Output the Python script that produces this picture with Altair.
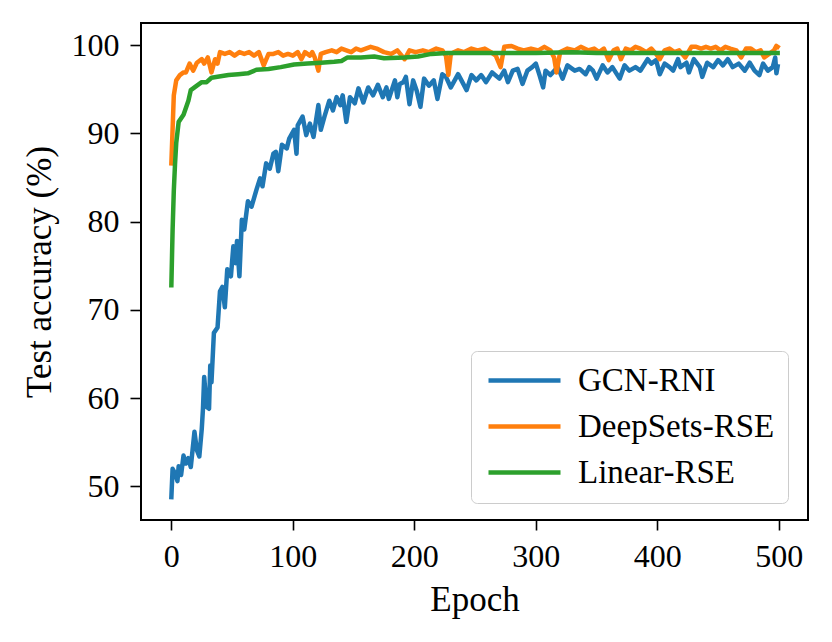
import altair as alt
import pandas as pd

SERIES = ["GCN-RNI", "DeepSets-RSE", "Linear-RSE"]
COLORS = ["#1f77b4", "#ff7f0e", "#2ca02c"]

gcn_epoch = [0, 1, 3, 5, 6, 8, 10, 12, 14, 16, 19, 21, 23, 25, 26, 27, 29, 31, 32, 33,
             35, 38, 40, 42, 44, 46, 49, 51, 53, 54, 56, 58, 60, 63, 66, 70, 73, 75, 78, 81,
             84, 86, 88, 91, 95, 97, 101, 103, 104, 108, 111, 114, 117, 121, 123, 126, 130, 133, 136, 139,
             141, 144, 147, 151, 154, 158, 162, 166, 170, 174, 177, 179, 184, 186, 188, 191, 193, 196, 199, 202,
             205, 208, 212, 216, 219, 223, 226, 230, 236, 238, 243, 247, 251, 255, 259, 264, 270, 274, 277, 281,
             285, 289, 293, 297, 300, 303, 306, 308, 312, 318, 322, 326, 332, 336, 341, 344, 347, 350, 355, 359,
             363, 369, 373, 377, 382, 386, 392, 395, 399, 402, 406, 410, 413, 417, 419, 424, 426, 430, 435, 437,
             441, 446, 450, 454, 458, 462, 467, 472, 476, 480, 484, 487, 491, 495, 497, 498, 499]
gcn_acc = [48.8, 52.0, 51.5, 50.6, 52.3, 51.3, 53.5, 52.6, 53.2, 52.2, 56.2, 54.1, 53.4, 56.5, 58.8, 62.4, 59.0, 58.8, 63.7, 61.8,
           67.4, 68.0, 72.1, 72.6, 70.3, 74.6, 73.8, 77.2, 75.3, 77.8, 73.8, 80.2, 79.1, 82.3, 81.7, 83.6, 84.9, 84.0, 86.6, 86.0,
           87.7, 87.9, 85.7, 88.7, 88.3, 89.4, 90.4, 87.7, 90.9, 91.9, 89.8, 91.1, 89.6, 93.2, 90.4, 91.9, 93.7, 92.6, 94.1, 93.2,
           94.3, 91.3, 94.1, 93.4, 95.1, 93.5, 95.2, 94.3, 95.5, 94.1, 95.2, 93.9, 96.0, 94.1, 95.6, 95.8, 96.4, 93.3, 96.0, 94.8,
           93.0, 96.2, 95.4, 96.0, 93.9, 96.7, 96.4, 95.2, 96.7, 96.2, 94.9, 96.6, 96.0, 96.6, 95.8, 96.9, 96.2, 97.1, 95.8, 97.1,
           97.3, 95.6, 97.1, 97.5, 97.9, 96.6, 95.2, 97.1, 96.6, 97.5, 96.2, 97.7, 97.1, 97.3, 96.7, 97.5, 97.1, 96.2, 97.7, 96.9,
           97.5, 96.2, 97.7, 97.1, 97.5, 97.1, 98.4, 97.9, 98.3, 96.7, 97.9, 97.5, 97.1, 98.4, 97.5, 98.0, 96.9, 98.4, 97.5, 96.4,
           98.0, 97.5, 98.3, 97.7, 98.4, 97.5, 97.9, 97.1, 98.0, 97.1, 96.6, 97.9, 97.1, 97.5, 98.6, 96.8, 97.6]

deep_epoch = [0, 2, 4, 7, 10, 12, 15, 18, 21, 25, 27, 30, 33, 36, 38, 40, 44, 48, 52, 56,
              60, 64, 68, 72, 76, 80, 84, 88, 92, 96, 100, 104, 107, 110, 114, 116, 118, 121, 123, 127,
              132, 136, 140, 144, 148, 152, 156, 160, 164, 169, 172, 175, 181, 186, 192, 196, 201, 207, 212, 218,
              223, 226, 228, 230, 236, 241, 247, 252, 258, 263, 267, 271, 274, 280, 285, 290, 296, 302, 307, 312,
              315, 317, 320, 326, 332, 337, 343, 348, 352, 356, 360, 364, 367, 370, 374, 378, 382, 386, 391, 395,
              399, 402, 406, 410, 414, 418, 423, 428, 432, 436, 440, 444, 448, 452, 456, 460, 465, 469, 473, 477,
              481, 485, 488, 492, 496, 498, 499]
deep_acc = [86.6, 94.3, 96.0, 96.6, 96.9, 96.9, 97.9, 97.1, 98.0, 98.4, 97.9, 98.6, 96.9, 98.4, 97.9, 99.2, 99.0, 99.2, 98.8, 99.2,
            99.0, 99.2, 98.8, 99.2, 97.7, 99.0, 99.0, 99.2, 98.8, 99.0, 98.8, 99.2, 98.4, 99.2, 98.8, 99.2, 98.6, 97.1, 99.0, 99.2,
            99.4, 99.2, 99.6, 99.4, 99.2, 99.6, 99.4, 99.6, 99.8, 99.6, 99.4, 99.2, 99.0, 99.4, 98.4, 99.4, 99.2, 99.4, 99.2, 99.6,
            99.4, 98.8, 96.6, 99.0, 99.4, 99.2, 99.6, 99.4, 99.6, 99.2, 98.8, 97.5, 99.8, 99.9, 99.6, 99.4, 99.6, 99.4, 99.8, 99.4,
            98.6, 96.9, 99.2, 99.6, 99.4, 99.8, 99.4, 99.6, 99.2, 99.6, 98.3, 99.4, 99.6, 98.4, 99.6, 99.4, 99.8, 99.6, 99.2, 99.6,
            99.0, 98.4, 99.4, 99.6, 99.2, 99.4, 98.6, 99.8, 99.8, 99.6, 99.8, 99.6, 99.8, 99.4, 99.8, 99.6, 99.4, 98.6, 99.6, 99.6,
            99.2, 99.4, 98.6, 99.0, 99.4, 99.9, 99.8]

lin_epoch = [0, 1, 2, 3, 4, 6, 10, 14, 16, 21, 25, 29, 33, 38, 47, 55, 63, 70, 80, 90,
             101, 112, 123, 134, 140, 145, 156, 167, 175, 192, 203, 214, 227, 250, 300, 330, 350, 400, 450, 499]
lin_acc = [72.8, 79.0, 83.5, 86.5, 88.9, 91.3, 92.1, 93.7, 94.9, 95.4, 95.8, 95.8, 96.3, 96.4, 96.6, 96.7, 96.8, 97.2, 97.3, 97.5,
           97.8, 97.9, 98.0, 98.1, 98.2, 98.6, 98.6, 98.7, 98.5, 98.6, 98.7, 99.0, 99.1, 99.1, 99.1, 99.2, 99.1, 99.1, 99.1, 99.1]

frames = []
for name, ep, acc in [(SERIES[0], gcn_epoch, gcn_acc),
                      (SERIES[1], deep_epoch, deep_acc),
                      (SERIES[2], lin_epoch, lin_acc)]:
    frames.append(pd.DataFrame({"epoch": ep, "acc": acc, "series": name}))
df = pd.concat(frames, ignore_index=True)

FONT = "Liberation Serif"
FS = 32
TFS = 35

xscale = alt.Scale(domain=[-25, 524], nice=False, zero=False)
yscale = alt.Scale(domain=[46.2, 102.5], nice=False, zero=False)
cscale = alt.Scale(domain=SERIES, range=COLORS)

legend = alt.Legend(
    title=None, orient="none", legendX=330, legendY=328,
    symbolType="M-1,0H5", symbolSize=576, symbolStrokeWidth=4.5,
    labelFont=FONT, labelFontSize=33, labelColor="black", labelOffset=61,
    rowPadding=12, padding=13, strokeColor="#cccccc", fillColor="white",
    cornerRadius=6, labelLimit=400,
)

def layer_for(name):
    return alt.Chart(df).transform_filter(alt.datum.series == name).mark_line(
        strokeWidth=4.5, strokeJoin="round", strokeCap="square"
    ).encode(
        x=alt.X("epoch:Q", scale=xscale,
                axis=alt.Axis(title="Epoch", values=[0, 100, 200, 300, 400, 500], format="d",
                              grid=False, tickSize=10, tickWidth=1.6, tickColor="black",
                              labelPadding=11, labelFont=FONT, labelFontSize=FS, labelColor="black",
                              titleFont=FONT, titleFontSize=TFS, titleFontWeight="normal", titleColor="black",
                              titlePadding=10, domain=False)),
        y=alt.Y("acc:Q", scale=yscale,
                axis=alt.Axis(title="Test accuracy (%)", values=[50, 60, 70, 80, 90, 100], format="d",
                              grid=False, tickSize=11, tickWidth=1.6, tickColor="black",
                              labelPadding=11, labelFont=FONT, labelFontSize=FS, labelColor="black",
                              titleFont=FONT, titleFontSize=TFS, titleFontWeight="normal", titleColor="black",
                              titlePadding=14, domain=False)),
        color=alt.Color("series:N", scale=cscale, legend=legend, sort=SERIES),
    )

chart = alt.layer(*[layer_for(s) for s in SERIES]).properties(
    width=667, height=497,
    background="white",
    autosize=alt.AutoSizeParams(type="none"),
    padding={"left": 133, "top": 15, "right": 16, "bottom": 110},
).configure_view(stroke="black", strokeWidth=2)

chart.save("out.html", embed_options={"renderer": "svg", "actions": False})
